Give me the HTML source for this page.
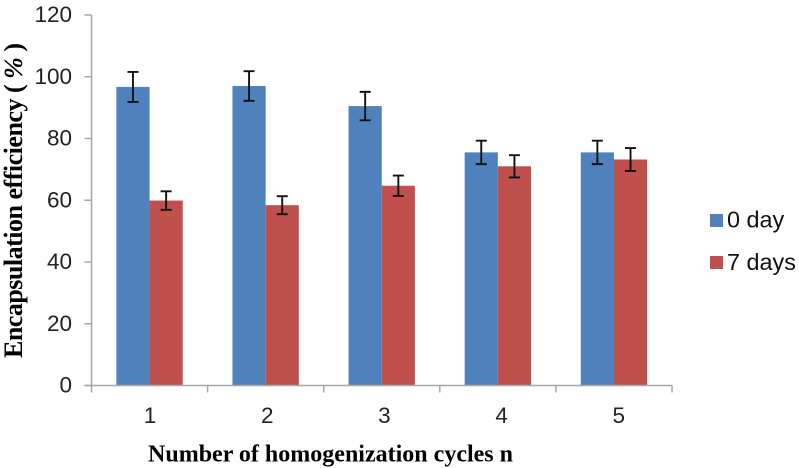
<!DOCTYPE html>
<html>
<head>
<meta charset="utf-8">
<title>Encapsulation efficiency chart</title>
<style>
html,body{margin:0;padding:0;background:#fff;width:799px;height:468px;overflow:hidden}
svg{display:block}
.tick{font-family:"Liberation Sans",sans-serif;font-size:22.5px;fill:#222}
.legend{font-family:"Liberation Sans",sans-serif;font-size:23.4px;fill:#111}
.title{font-family:"Liberation Serif",serif;font-weight:bold;fill:#000}
</style>
</head>
<body>
<svg id="chart" width="799" height="468" viewBox="0 0 799 468" xmlns="http://www.w3.org/2000/svg">
<text class="title" transform="translate(22,358) rotate(-90)" x="0" y="0" font-size="26" textLength="315" lengthAdjust="spacing">Encapsulation efficiency ( <tspan font-style="italic">%</tspan> )</text>
<text class="title" x="148" y="461.5" font-size="24" textLength="365" lengthAdjust="spacing">Number of homogenization cycles n</text>
<rect x="710" y="214" width="13" height="13" fill="#4f81bd"/>
<text class="legend" x="727" y="227.5">0 day</text>
<rect x="710" y="256" width="13" height="13" fill="#c0504d"/>
<text class="legend" x="727" y="270">7 days</text>
</svg>
<script>
const categories = ['1', '2', '3', '4', '5'];
const day0Values = [96.7, 97, 90.5, 75.5, 75.5];
const day7Values = [59.9, 58.4, 64.7, 71, 73.2];
const day0Errors = [4.85, 4.8, 4.6, 3.8, 3.8];
const day7Errors = [3, 2.9, 3.3, 3.6, 3.7];
const yTicks = [0, 20, 40, 60, 80, 100, 120];

const svg = document.getElementById('chart');
const NS = 'http://www.w3.org/2000/svg';
const plot = { left: 91.5, right: 672, bottom: 385.5, top: 15 };
const yMax = yTicks[yTicks.length - 1];
const bandWidth = (plot.right - plot.left) / categories.length;
const barWidth = bandWidth / 3.5;
const axisColor = '#a6a6a6';

function yScale(v) {
  return plot.bottom - (v / yMax) * (plot.bottom - plot.top);
}
function xBand(i) {
  return plot.left + i * bandWidth;
}
function xLabel(i) {
  return 150 + i * 117.2;
}
function make(tag, attrs) {
  const el = document.createElementNS(NS, tag);
  for (const k in attrs) el.setAttribute(k, attrs[k]);
  svg.appendChild(el);
  return el;
}
function drawBar(i, v, offset, color, name) {
  const x = xBand(i) + bandWidth / 2 + offset;
  const el = make('rect', { x: x, y: yScale(v), width: barWidth, height: plot.bottom - yScale(v), fill: color });
  
  
}
function drawError(i, v, e, offset, name) {
  const cx = xBand(i) + bandWidth / 2 + offset;
  const top = yScale(v + e);
  const bot = yScale(v - e);
  const path = make('path', {
    d: 'M' + (cx - 5.5) + ' ' + top + 'H' + (cx + 5.5) + 'M' + cx + ' ' + top + 'V' + bot + 'M' + (cx - 5.5) + ' ' + bot + 'H' + (cx + 5.5),
    stroke: '#111', 'stroke-width': 1.9, fill: 'none'
  });
  
  
}

categories.forEach(function (c, i) {
  drawBar(i, day0Values[i], -barWidth, '#4f81bd', 'bar-0-day-' + c);
  drawBar(i, day7Values[i], 0, '#c0504d', 'bar-7-days-' + c);
});

const yAxis = make('line', { x1: plot.left, x2: plot.left, y1: plot.top, y2: plot.bottom + 7, stroke: axisColor, 'stroke-width': 1.5 });


const xAxis = make('line', { x1: plot.left - 7, x2: plot.right, y1: plot.bottom, y2: plot.bottom, stroke: axisColor, 'stroke-width': 1.5 });



yTicks.forEach(function (t) {
  const y = yScale(t);
  const mark = make('line', { x1: plot.left - 7, x2: plot.left, y1: y, y2: y, stroke: axisColor, 'stroke-width': 1.5 });
  
  
  const label = make('text', { x: 72, y: y + 7, 'text-anchor': 'end', class: 'tick' });
  
  
  label.textContent = t;
});

for (let i = 1; i <= categories.length; i++) {
  const x = xBand(i);
  const mark = make('line', { x1: x, x2: x, y1: plot.bottom, y2: plot.bottom + 7, stroke: axisColor, 'stroke-width': 1.5 });
  
  
}

categories.forEach(function (c, i) {
  const label = make('text', { x: xLabel(i), y: 423, 'text-anchor': 'middle', class: 'tick' });
  
  
  label.textContent = c;
  drawError(i, day0Values[i], day0Errors[i], -barWidth / 2, 'error-bar-0-day-' + c);
  drawError(i, day7Values[i], day7Errors[i], barWidth / 2, 'error-bar-7-days-' + c);
});
</script>
</body>
</html>
